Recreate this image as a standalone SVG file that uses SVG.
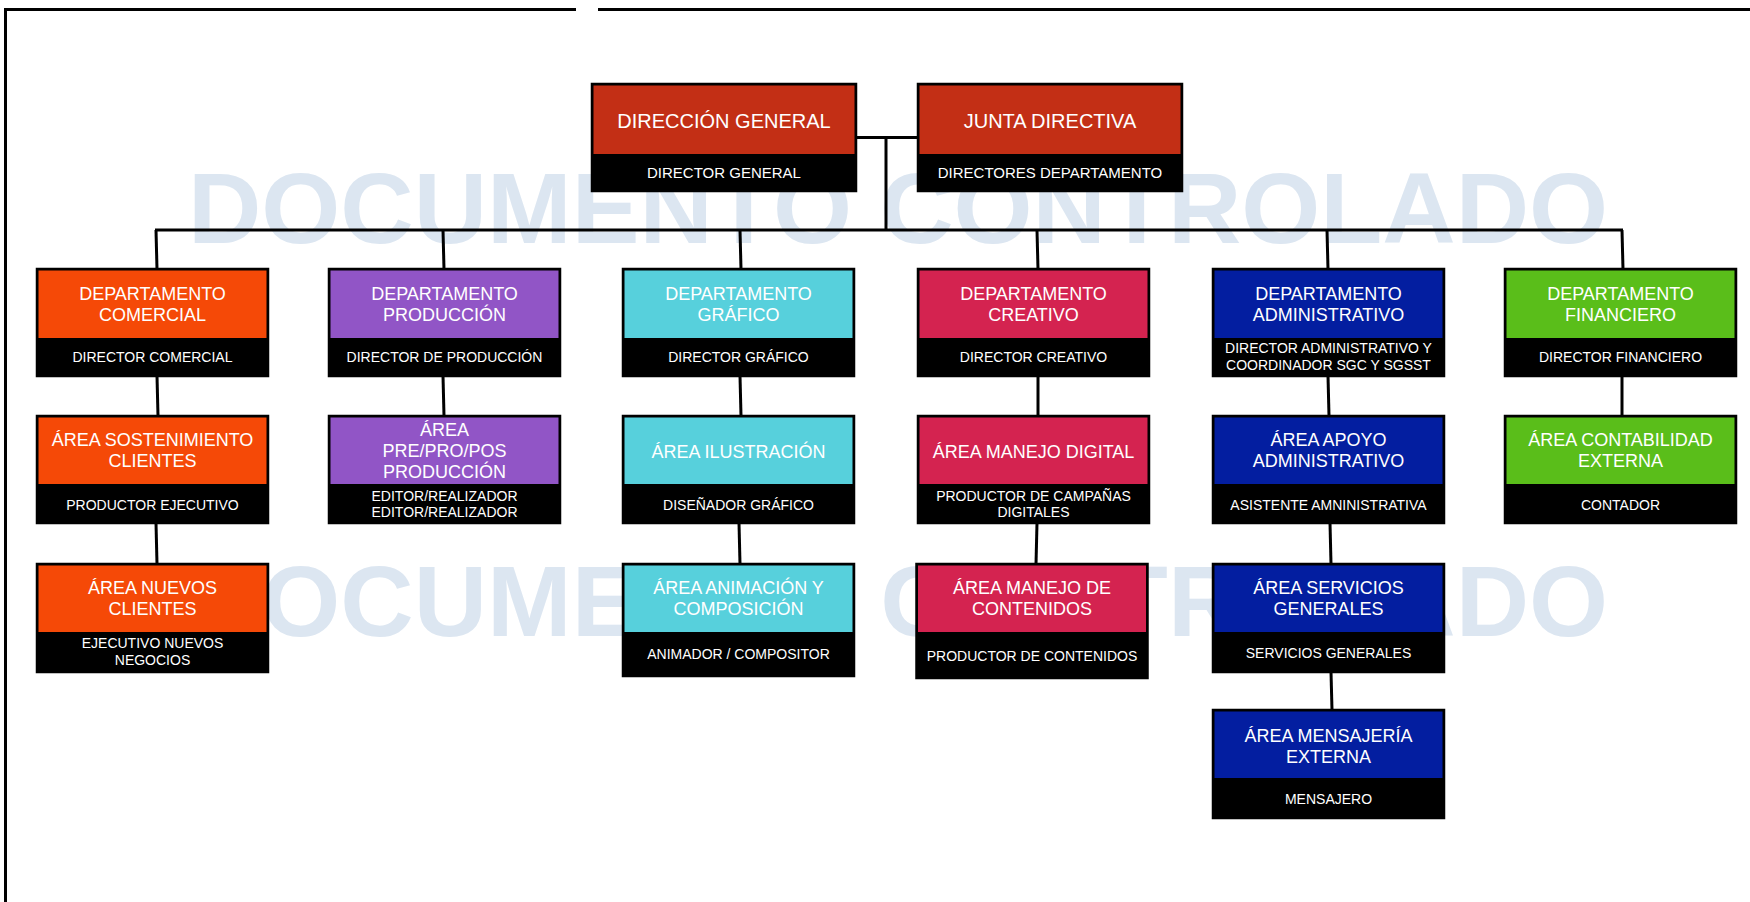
<svg xmlns="http://www.w3.org/2000/svg" width="1750" height="902" viewBox="0 0 1750 902">
<style>
.wm{font-family:"Liberation Sans",Arial,sans-serif;font-weight:bold;font-size:100px;fill:#DCE6F1}
.box{fill:#000;stroke:#000;stroke-width:2.5}
.h{font-family:"Liberation Sans",Arial,sans-serif;font-size:18px;fill:#fff;text-anchor:middle}
.hb{font-family:"Liberation Sans",Arial,sans-serif;font-size:20px;fill:#fff;text-anchor:middle}
.s{font-family:"Liberation Sans",Arial,sans-serif;font-size:14px;fill:#fff;text-anchor:middle}
.sb{font-family:"Liberation Sans",Arial,sans-serif;font-size:15px;fill:#fff;text-anchor:middle}
.red{fill:#C32F15}.org{fill:#F54907}.pur{fill:#9155C6}.cyn{fill:#57D0DC}.crm{fill:#D42350}.nav{fill:#031EA0}.grn{fill:#5ABE1A}
.ln{stroke:#000;stroke-width:3;fill:none}
</style>
<rect width="1750" height="902" fill="#fff"/>
<g id="frame" class="ln">
<line x1="5.5" y1="8" x2="5.5" y2="902"/>
<line x1="4" y1="9.5" x2="576" y2="9.5"/>
<line x1="598" y1="9.5" x2="1750" y2="9.5"/>
</g>
<g id="watermark">
<text class="wm" x="188" y="243" textLength="1420" lengthAdjust="spacingAndGlyphs">DOCUMENTO CONTROLADO</text>
<text class="wm" x="188" y="636" textLength="1420" lengthAdjust="spacingAndGlyphs">DOCUMENTO CONTROLADO</text>
</g>
<g id="connectors" class="ln">
<line x1="856" y1="137.5" x2="918" y2="137.5"/>
<line x1="886" y1="137" x2="886" y2="230"/>
<line x1="155" y1="230" x2="1623" y2="230"/>
<line x1="156" y1="230" x2="157" y2="269"/>
<line x1="443" y1="230" x2="444" y2="269"/>
<line x1="740" y1="230" x2="741" y2="269"/>
<line x1="1037" y1="230" x2="1038" y2="269"/>
<line x1="1327" y1="230" x2="1328" y2="269"/>
<line x1="1622" y1="230" x2="1623" y2="269"/>
<line x1="157" y1="376" x2="158" y2="416"/>
<line x1="156" y1="523" x2="157" y2="564"/>
<line x1="443" y1="376" x2="444" y2="416"/>
<line x1="740" y1="376" x2="741" y2="416"/>
<line x1="739" y1="523" x2="740" y2="564"/>
<line x1="1038" y1="376" x2="1038" y2="416"/>
<line x1="1037" y1="523" x2="1036" y2="564"/>
<line x1="1328" y1="376" x2="1329" y2="416"/>
<line x1="1330" y1="523" x2="1331" y2="564"/>
<line x1="1331" y1="672" x2="1332" y2="710"/>
<line x1="1622" y1="376" x2="1622" y2="416"/>
</g>
<g id="direccion-general">
<rect class="box" x="592" y="84" width="264" height="107"/>
<rect class="red" x="593.5" y="85.5" width="261" height="68.5"/>
<text class="hb" x="724" y="127.5">DIRECCIÓN GENERAL</text>
<text class="sb" x="724" y="178">DIRECTOR GENERAL</text>
</g>
<g id="junta-directiva">
<rect class="box" x="918" y="84" width="264" height="107"/>
<rect class="red" x="919.5" y="85.5" width="261" height="68.5"/>
<text class="hb" x="1050" y="127.5">JUNTA DIRECTIVA</text>
<text class="sb" x="1050" y="178">DIRECTORES DEPARTAMENTO</text>
</g>
<g id="dep-comercial">
<rect class="box" x="37" y="269" width="231" height="107"/>
<rect class="org" x="38.5" y="270.5" width="228" height="67.5"/>
<text class="h" x="152.5" y="300">DEPARTAMENTO</text>
<text class="h" x="152.5" y="321">COMERCIAL</text>
<text class="s" x="152.5" y="362">DIRECTOR COMERCIAL</text>
</g>
<g id="area-sostenimiento">
<rect class="box" x="37" y="416" width="231" height="107"/>
<rect class="org" x="38.5" y="417.5" width="228" height="66.5"/>
<text class="h" x="152.5" y="446">ÁREA SOSTENIMIENTO</text>
<text class="h" x="152.5" y="467">CLIENTES</text>
<text class="s" x="152.5" y="509.5">PRODUCTOR EJECUTIVO</text>
</g>
<g id="area-nuevos-clientes">
<rect class="box" x="37" y="564" width="231" height="108"/>
<rect class="org" x="38.5" y="565.5" width="228" height="66.5"/>
<text class="h" x="152.5" y="594">ÁREA NUEVOS</text>
<text class="h" x="152.5" y="615">CLIENTES</text>
<text class="s" x="152.5" y="648">EJECUTIVO NUEVOS</text>
<text class="s" x="152.5" y="665">NEGOCIOS</text>
</g>
<g id="dep-produccion">
<rect class="box" x="329" y="269" width="231" height="107"/>
<rect class="pur" x="330.5" y="270.5" width="228" height="67.5"/>
<text class="h" x="444.5" y="300">DEPARTAMENTO</text>
<text class="h" x="444.5" y="321">PRODUCCIÓN</text>
<text class="s" x="444.5" y="362">DIRECTOR DE PRODUCCIÓN</text>
</g>
<g id="area-prepropos">
<rect class="box" x="329" y="416" width="231" height="107"/>
<rect class="pur" x="330.5" y="417.5" width="228" height="66.5"/>
<text class="h" x="444.5" y="436">ÁREA</text>
<text class="h" x="444.5" y="457">PRE/PRO/POS</text>
<text class="h" x="444.5" y="478">PRODUCCIÓN</text>
<text class="s" x="444.5" y="500.5">EDITOR/REALIZADOR</text>
<text class="s" x="444.5" y="517">EDITOR/REALIZADOR</text>
</g>
<g id="dep-grafico">
<rect class="box" x="623" y="269" width="231" height="107"/>
<rect class="cyn" x="624.5" y="270.5" width="228" height="67.5"/>
<text class="h" x="738.5" y="300">DEPARTAMENTO</text>
<text class="h" x="738.5" y="321">GRÁFICO</text>
<text class="s" x="738.5" y="362">DIRECTOR GRÁFICO</text>
</g>
<g id="area-ilustracion">
<rect class="box" x="623" y="416" width="231" height="107"/>
<rect class="cyn" x="624.5" y="417.5" width="228" height="66.5"/>
<text class="h" x="738.5" y="458">ÁREA ILUSTRACIÓN</text>
<text class="s" x="738.5" y="509.5">DISEÑADOR GRÁFICO</text>
</g>
<g id="area-animacion">
<rect class="box" x="623" y="564" width="231" height="112"/>
<rect class="cyn" x="624.5" y="565.5" width="228" height="66.5"/>
<text class="h" x="738.5" y="594">ÁREA ANIMACIÓN Y</text>
<text class="h" x="738.5" y="615">COMPOSICIÓN</text>
<text class="s" x="738.5" y="659">ANIMADOR / COMPOSITOR</text>
</g>
<g id="dep-creativo">
<rect class="box" x="918" y="269" width="231" height="107"/>
<rect class="crm" x="919.5" y="270.5" width="228" height="67.5"/>
<text class="h" x="1033.5" y="300">DEPARTAMENTO</text>
<text class="h" x="1033.5" y="321">CREATIVO</text>
<text class="s" x="1033.5" y="362">DIRECTOR CREATIVO</text>
</g>
<g id="area-manejo-digital">
<rect class="box" x="918" y="416" width="231" height="107"/>
<rect class="crm" x="919.5" y="417.5" width="228" height="66.5"/>
<text class="h" x="1033.5" y="458">ÁREA MANEJO DIGITAL</text>
<text class="s" x="1033.5" y="500.5">PRODUCTOR DE CAMPAÑAS</text>
<text class="s" x="1033.5" y="517">DIGITALES</text>
</g>
<g id="area-manejo-contenidos">
<rect class="box" x="916.5" y="564" width="231" height="114"/>
<rect class="crm" x="918" y="565.5" width="228" height="66.5"/>
<text class="h" x="1032" y="594">ÁREA MANEJO DE</text>
<text class="h" x="1032" y="615">CONTENIDOS</text>
<text class="s" x="1032" y="661">PRODUCTOR DE CONTENIDOS</text>
</g>
<g id="dep-administrativo">
<rect class="box" x="1213" y="269" width="231" height="107"/>
<rect class="nav" x="1214.5" y="270.5" width="228" height="67.5"/>
<text class="h" x="1328.5" y="300">DEPARTAMENTO</text>
<text class="h" x="1328.5" y="321">ADMINISTRATIVO</text>
<text class="s" x="1328.5" y="353">DIRECTOR ADMINISTRATIVO Y</text>
<text class="s" x="1328.5" y="370">COORDINADOR SGC Y SGSST</text>
</g>
<g id="area-apoyo">
<rect class="box" x="1213" y="416" width="231" height="107"/>
<rect class="nav" x="1214.5" y="417.5" width="228" height="66.5"/>
<text class="h" x="1328.5" y="446">ÁREA APOYO</text>
<text class="h" x="1328.5" y="467">ADMINISTRATIVO</text>
<text class="s" x="1328.5" y="509.5">ASISTENTE AMNINISTRATIVA</text>
</g>
<g id="area-servicios">
<rect class="box" x="1213" y="564" width="231" height="108"/>
<rect class="nav" x="1214.5" y="565.5" width="228" height="66.5"/>
<text class="h" x="1328.5" y="594">ÁREA SERVICIOS</text>
<text class="h" x="1328.5" y="615">GENERALES</text>
<text class="s" x="1328.5" y="658">SERVICIOS GENERALES</text>
</g>
<g id="area-mensajeria">
<rect class="box" x="1213" y="710" width="231" height="108"/>
<rect class="nav" x="1214.5" y="711.5" width="228" height="66.5"/>
<text class="h" x="1328.5" y="742">ÁREA MENSAJERÍA</text>
<text class="h" x="1328.5" y="763">EXTERNA</text>
<text class="s" x="1328.5" y="804">MENSAJERO</text>
</g>
<g id="dep-financiero">
<rect class="box" x="1505" y="269" width="231" height="107"/>
<rect class="grn" x="1506.5" y="270.5" width="228" height="67.5"/>
<text class="h" x="1620.5" y="300">DEPARTAMENTO</text>
<text class="h" x="1620.5" y="321">FINANCIERO</text>
<text class="s" x="1620.5" y="362">DIRECTOR FINANCIERO</text>
</g>
<g id="area-contabilidad">
<rect class="box" x="1505" y="416" width="231" height="107"/>
<rect class="grn" x="1506.5" y="417.5" width="228" height="66.5"/>
<text class="h" x="1620.5" y="446">ÁREA CONTABILIDAD</text>
<text class="h" x="1620.5" y="467">EXTERNA</text>
<text class="s" x="1620.5" y="509.5">CONTADOR</text>
</g>
</svg>
